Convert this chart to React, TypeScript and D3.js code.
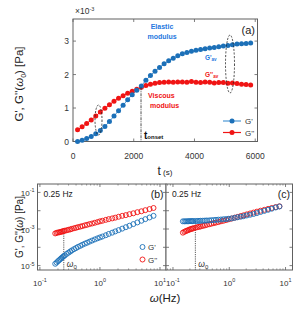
import React from 'react';
import * as d3 from 'd3';

// ---------- Panel (a): time sweep at omega0 ----------
const tSec = [150, 300, 450, 600, 750, 900, 1050, 1200, 1350, 1500, 1650, 1800, 1950, 2100, 2250, 2400, 2550, 2700, 2850, 3000, 3150, 3300, 3450, 3600, 3750, 3900, 4050, 4200, 4350, 4500, 4650, 4800, 4950, 5100, 5250, 5400, 5550, 5700, 5850];
// values in units of 1e-3 Pa
const gElastic = [0.0, 0.04, 0.09, 0.15, 0.23, 0.33, 0.45, 0.6, 0.76, 0.92, 1.08, 1.25, 1.4, 1.53, 1.66, 1.83, 1.97, 2.1, 2.21, 2.32, 2.41, 2.49, 2.56, 2.62, 2.66, 2.7, 2.73, 2.75, 2.77, 2.79, 2.81, 2.83, 2.85, 2.87, 2.89, 2.91, 2.92, 2.93, 2.94];
const gViscous = [0.35, 0.44, 0.54, 0.64, 0.76, 0.88, 0.99, 1.1, 1.2, 1.29, 1.37, 1.44, 1.5, 1.56, 1.62, 1.67, 1.71, 1.74, 1.76, 1.77, 1.78, 1.77, 1.78, 1.78, 1.77, 1.79, 1.77, 1.76, 1.78, 1.77, 1.75, 1.76, 1.76, 1.74, 1.75, 1.73, 1.71, 1.7, 1.69];
const timeTicks = [0, 2000, 4000, 6000];
const modTicks = [0, 1, 2, 3];
const tOnset = 2240;
const gOnset = 1.62;

// ---------- Panel (b): frequency sweep ----------
const freqB = [0.18, 0.19, 0.2, 0.21, 0.22, 0.23, 0.24, 0.25, 0.26, 0.28, 0.3, 0.32, 0.34, 0.37, 0.4, 0.43, 0.47, 0.51, 0.56, 0.61, 0.67, 0.74, 0.82, 0.91, 1.0, 1.1, 1.25, 1.4, 1.6, 1.8, 2.05, 2.35, 2.7, 3.1, 3.6, 4.2, 4.9, 5.7, 6.7, 7.8];
const gpB = [1.26e-5, 1.48e-5, 1.74e-5, 2.0e-5, 2.29e-5, 2.63e-5, 2.95e-5, 3.31e-5, 3.63e-5, 4.37e-5, 5.13e-5, 5.89e-5, 6.76e-5, 7.94e-5, 9.12e-5, 1.05e-4, 1.2e-4, 1.38e-4, 1.58e-4, 1.78e-4, 2.04e-4, 2.34e-4, 2.69e-4, 3.09e-4, 3.47e-4, 3.89e-4, 4.57e-4, 5.37e-4, 6.31e-4, 7.41e-4, 8.71e-4, 1.05e-3, 1.26e-3, 1.51e-3, 1.86e-3, 2.29e-3, 2.82e-3, 3.47e-3, 4.27e-3, 5.25e-3];
const gppB = [5.75e-4, 6.17e-4, 6.46e-4, 6.6e-4, 6.9e-4, 7.2e-4, 7.4e-4, 7.8e-4, 8.1e-4, 8.5e-4, 9.1e-4, 9.5e-4, 1.02e-3, 1.1e-3, 1.17e-3, 1.26e-3, 1.35e-3, 1.45e-3, 1.58e-3, 1.7e-3, 1.86e-3, 2.0e-3, 2.19e-3, 2.4e-3, 2.63e-3, 2.82e-3, 3.16e-3, 3.47e-3, 3.8e-3, 4.17e-3, 4.68e-3, 5.25e-3, 5.75e-3, 6.46e-3, 7.24e-3, 8.32e-3, 9.33e-3, 1.07e-2, 1.23e-2, 1.41e-2];

// ---------- Panel (c): frequency sweep ----------
const freqC = [0.15, 0.16, 0.17, 0.18, 0.19, 0.2, 0.21, 0.22, 0.23, 0.25, 0.27, 0.29, 0.31, 0.34, 0.37, 0.4, 0.44, 0.48, 0.53, 0.58, 0.64, 0.71, 0.79, 0.88, 0.98, 1.1, 1.25, 1.4, 1.6, 1.8, 2.05, 2.35, 2.7, 3.1, 3.6, 4.2, 4.9, 5.7, 6.7, 7.8];
const gpC = [2.63e-3, 2.63e-3, 2.63e-3, 2.66e-3, 2.66e-3, 2.69e-3, 2.69e-3, 2.69e-3, 2.72e-3, 2.75e-3, 2.75e-3, 2.79e-3, 2.82e-3, 2.85e-3, 2.88e-3, 2.92e-3, 2.95e-3, 3.02e-3, 3.09e-3, 3.16e-3, 3.24e-3, 3.31e-3, 3.43e-3, 3.51e-3, 3.63e-3, 3.8e-3, 4.07e-3, 4.37e-3, 4.68e-3, 5.01e-3, 5.5e-3, 6.03e-3, 6.61e-3, 7.41e-3, 8.51e-3, 9.77e-3, 1.12e-2, 1.29e-2, 1.51e-2, 1.7e-2];
const gppC = [6.31e-4, 7.08e-4, 7.76e-4, 8.32e-4, 8.91e-4, 9.55e-4, 1.0e-3, 1.05e-3, 1.1e-3, 1.17e-3, 1.26e-3, 1.32e-3, 1.38e-3, 1.48e-3, 1.58e-3, 1.7e-3, 1.82e-3, 1.95e-3, 2.09e-3, 2.24e-3, 2.4e-3, 2.63e-3, 2.82e-3, 3.09e-3, 3.39e-3, 3.72e-3, 4.17e-3, 4.57e-3, 5.13e-3, 5.62e-3, 6.31e-3, 7.08e-3, 7.94e-3, 8.91e-3, 1.0e-2, 1.12e-2, 1.26e-2, 1.41e-2, 1.58e-2, 1.74e-2];

const omega0 = 0.25;
const yDecades = [-1, -2, -3, -4, -5];
const yDecadeLabels = [-1, -3, -5];
const xDecades = [-1, 0, 1];

const BLUE = '#1c70b8';
const BLUE_LINE = '#4b97d6';
const RED = '#f01414';
const AXIS = '#606060';
const TXT = '#333333';
const FONT = 'Liberation Sans, Arial, sans-serif';

// ---------- layout ----------
const A = { l: 73, r: 257.5, t: 19, b: 141.5 };
const B = { l: 37.5, r: 166, t: 184, b: 270 };
const C = { l: 166, r: 292.5, t: 184, b: 270 };

const xA = d3.scaleLinear().domain([0, 6075]).range([A.l, A.r]);
const yA = d3.scaleLinear().domain([0, 3.66]).range([A.b, A.t]);
const xB = d3.scaleLog().domain([Math.pow(10, -1.04), Math.pow(10, 1.1)]).range([B.l, B.r]);
const xC = d3.scaleLog().domain([Math.pow(10, -1.124), Math.pow(10, 1.124)]).range([C.l, C.r]);
const yL = d3.scaleLog().domain([Math.pow(10, -5.24), Math.pow(10, -0.54)]).range([B.b, B.t]);

function Pow10({ x, y, exp, anchor = 'middle', size = 8 }: any) {
  return (
    <text x={x} y={y} textAnchor={anchor} fontSize={size} fill={TXT} fontFamily={FONT}>
      10<tspan fontSize={size * 0.68} dy={-size * 0.45}>{exp}</tspan>
    </text>
  );
}

function minorTicks(scale: any) {
  const [d0, d1] = scale.domain();
  const out: number[] = [];
  for (let e = -2; e <= 1; e++) {
    for (let m = 2; m <= 9; m++) {
      const v = m * Math.pow(10, e);
      if (v > d0 && v < d1) out.push(v);
    }
  }
  return out;
}

function LogPanel({ P, xs, freq, gp, gpp, label, omegaY, showYLabels, legend }: any) {
  const majors = xDecades.map((e) => Math.pow(10, e)).filter((v) => v >= xs.domain()[0] && v <= xs.domain()[1]);
  const minors = minorTicks(xs);
  return (
    <g>
      <rect x={P.l} y={P.t} width={P.r - P.l} height={P.b - P.t} fill="white" stroke={AXIS} strokeWidth={1} />
      {majors.map((v, i) => (
        <g key={'mx' + i}>
          <line x1={xs(v)} x2={xs(v)} y1={P.b} y2={P.b - 3} stroke={AXIS} strokeWidth={0.8} />
          <line x1={xs(v)} x2={xs(v)} y1={P.t} y2={P.t + 3} stroke={AXIS} strokeWidth={0.8} />
        </g>
      ))}
      {minors.map((v, i) => (
        <g key={'mn' + i}>
          <line x1={xs(v)} x2={xs(v)} y1={P.b} y2={P.b - 1.6} stroke={AXIS} strokeWidth={0.6} />
          <line x1={xs(v)} x2={xs(v)} y1={P.t} y2={P.t + 1.6} stroke={AXIS} strokeWidth={0.6} />
        </g>
      ))}
      {yDecades.map((e, i) => (
        <g key={'yt' + i}>
          <line x1={P.l} x2={P.l + 3} y1={yL(Math.pow(10, e))} y2={yL(Math.pow(10, e))} stroke={AXIS} strokeWidth={0.8} />
          <line x1={P.r} x2={P.r - 3} y1={yL(Math.pow(10, e))} y2={yL(Math.pow(10, e))} stroke={AXIS} strokeWidth={0.8} />
        </g>
      ))}
      {showYLabels && yDecadeLabels.map((e, i) => (
        <Pow10 key={'yl' + i} x={P.l - 3} y={yL(Math.pow(10, e)) + 3.5} exp={String(e)} anchor="end" size={8} />
      ))}
      {majors.map((v, i) => (
        <Pow10 key={'xl' + i} x={xs(v)} y={286} exp={String(Math.round(Math.log10(v)))} size={8} />
      ))}
      {/* omega0 marker */}
      <line x1={xs(omega0)} x2={xs(omega0)} y1={omegaY} y2={P.b} stroke="#333" strokeWidth={0.8} strokeDasharray="1.2,1" />
      <text x={xs(omega0) + 3} y={P.b - 3} fontSize={8.5} fill={TXT} fontFamily={FONT} fontStyle="italic">
        ω<tspan fontSize={6} dy={1.5} fontStyle="normal">0</tspan>
      </text>
      {gpp.map((v: number, i: number) => (
        <circle key={'r' + i} cx={xs(freq[i])} cy={yL(v)} r={2.5} fill="none" stroke={RED} strokeWidth={0.9} />
      ))}
      {gp.map((v: number, i: number) => (
        <circle key={'b' + i} cx={xs(freq[i])} cy={yL(v)} r={2.5} fill="none" stroke={BLUE} strokeWidth={0.9} />
      ))}
      <text x={P.l + 6} y={P.t + 13} fontSize={8.5} fill="#222" fontFamily={FONT}>0.25 Hz</text>
      <text x={P.r - 2.5} y={P.t + 13.5} fontSize={10.5} fill="#222" fontFamily={FONT} textAnchor="end">{label}</text>
      {legend && (
        <g>
          <circle cx={142.5} cy={247} r={2.5} fill="none" stroke={BLUE} strokeWidth={0.9} />
          <text x={148} y={250} fontSize={8} fill={TXT} fontFamily={FONT}>G'</text>
          <circle cx={142.5} cy={259.5} r={2.5} fill="none" stroke={RED} strokeWidth={0.9} />
          <text x={148} y={262.5} fontSize={8} fill={TXT} fontFamily={FONT}>G''</text>
        </g>
      )}
    </g>
  );
}

export default function App() {
  const lineA = d3.line<number>().x((_, i) => xA(tSec[i])).y((v) => yA(v));
  const idxOnsetY = yA(gOnset);
  return (
    <svg width={305} height={312} style={{ position: 'absolute', left: 0, top: 0, background: 'white' }}>
      {/* ---------------- Panel (a) ---------------- */}
      <rect x={A.l} y={A.t} width={A.r - A.l} height={A.b - A.t} fill="white" stroke={AXIS} strokeWidth={1} />
      {timeTicks.map((t, i) => (
        <g key={'tx' + i}>
          <line x1={xA(t)} x2={xA(t)} y1={A.b} y2={A.b - 3} stroke={AXIS} strokeWidth={0.8} />
          <line x1={xA(t)} x2={xA(t)} y1={A.t} y2={A.t + 3} stroke={AXIS} strokeWidth={0.8} />
          <text x={xA(t)} y={158.5} textAnchor="middle" fontSize={8.5} fill={TXT} fontFamily={FONT}>{t}</text>
        </g>
      ))}
      {modTicks.map((m, i) => (
        <g key={'ty' + i}>
          <line x1={A.l} x2={A.l + 3} y1={yA(m)} y2={yA(m)} stroke={AXIS} strokeWidth={0.8} />
          <line x1={A.r} x2={A.r - 3} y1={yA(m)} y2={yA(m)} stroke={AXIS} strokeWidth={0.8} />
          <text x={A.l - 4} y={yA(m) + 3} textAnchor="end" fontSize={8.5} fill={TXT} fontFamily={FONT}>{m}</text>
        </g>
      ))}
      <text x={75} y={14} fontSize={8.5} fill={TXT} fontFamily={FONT}>
        ×10<tspan fontSize={5.5} dy={-3.5}>-3</tspan>
      </text>
      <path d={lineA(gViscous) || ''} fill="none" stroke={RED} strokeWidth={1} />
      <path d={lineA(gElastic) || ''} fill="none" stroke={BLUE_LINE} strokeWidth={1} />
      {gViscous.map((v, i) => (
        <circle key={'va' + i} cx={xA(tSec[i])} cy={yA(v)} r={2.5} fill={RED} />
      ))}
      {gElastic.map((v, i) => (
        <circle key={'ea' + i} cx={xA(tSec[i])} cy={yA(v)} r={2.5} fill={BLUE} />
      ))}
      {/* onset line */}
      <line x1={xA(tOnset)} x2={xA(tOnset)} y1={idxOnsetY} y2={A.b} stroke="#222" strokeWidth={0.8} strokeDasharray="3,1,1,1" />
      <text x={144} y={139} fontSize={10} fontWeight="bold" fill="#111" fontFamily={FONT}>
        t<tspan fontSize={6}>onset</tspan>
      </text>
      {/* ellipses */}
      <ellipse cx={98.5} cy={120} rx={3.5} ry={15} fill="none" stroke="#222" strokeWidth={0.8} strokeDasharray="2,1.5" />
      <ellipse cx={230} cy={64} rx={4.5} ry={29} fill="none" stroke="#222" strokeWidth={0.8} strokeDasharray="2,1.5" />
      {/* annotations */}
      <text x={162} y={29} textAnchor="middle" fontSize={7} fontWeight="bold" fill="#2577e0" fontFamily={FONT}>Elastic</text>
      <text x={162} y={39} textAnchor="middle" fontSize={7} fontWeight="bold" fill="#2577e0" fontFamily={FONT}>modulus</text>
      <text x={205} y={60} fontSize={6.5} fontWeight="bold" fill="#2577e0" fontFamily={FONT}>
        G'<tspan fontSize={4.5} dy={1}>av</tspan>
      </text>
      <text x={205} y={77} fontSize={6.5} fontWeight="bold" fill={RED} fontFamily={FONT}>
        G''<tspan fontSize={4.5} dy={1}>av</tspan>
      </text>
      <text x={148} y={98} fontSize={7} fontWeight="bold" fill={RED} fontFamily={FONT}>Viscous</text>
      <text x={150} y={108} fontSize={7} fontWeight="bold" fill={RED} fontFamily={FONT}>modulus</text>
      <text x={255} y={34} textAnchor="end" fontSize={11} fill="#222" fontFamily={FONT}>(a)</text>
      {/* legend (a) */}
      <line x1={223} x2={241} y1={121} y2={121} stroke={BLUE_LINE} strokeWidth={1.2} />
      <circle cx={232} cy={121} r={2.5} fill={BLUE} />
      <text x={245} y={124} fontSize={8} fill={TXT} fontFamily={FONT}>G'</text>
      <line x1={223} x2={241} y1={132.5} y2={132.5} stroke={RED} strokeWidth={1.2} />
      <circle cx={232} cy={132.5} r={2.5} fill={RED} />
      <text x={245} y={135.5} fontSize={8} fill={TXT} fontFamily={FONT}>G''</text>
      {/* axis labels (a) */}
      <text x={165} y={175} textAnchor="middle" fontSize={12} fill="#222" fontFamily={FONT}>
        t<tspan fontSize={8}> (s)</tspan>
      </text>
      <text transform="translate(23,84) rotate(-90)" textAnchor="middle" fontSize={11.5} fill="#222" fontFamily={FONT}>
        G', G''(<tspan fontStyle="italic">ω</tspan><tspan fontSize={7} dy={2.5}>0</tspan><tspan dy={-2.5}>) [Pa]</tspan>
      </text>

      {/* ---------------- Panels (b) and (c) ---------------- */}
      <LogPanel P={B} xs={xB} freq={freqB} gp={gpB} gpp={gppB} label="(b)" omegaY={yL(7.6e-4)} showYLabels={true} legend={true} />
      <LogPanel P={C} xs={xC} freq={freqC} gp={gpC} gpp={gppC} label="(c)" omegaY={yL(2.74e-3)} showYLabels={false} legend={false} />
      <text transform="translate(23,227) rotate(-90)" textAnchor="middle" fontSize={10} fill="#222" fontFamily={FONT}>
        G', G''(<tspan fontStyle="italic">ω</tspan>) [Pa]
      </text>
      <text x={165} y={302} textAnchor="middle" fontSize={11.5} fill="#222" fontFamily={FONT}>
        <tspan fontStyle="italic">ω</tspan>(Hz)
      </text>
    </svg>
  );
}
